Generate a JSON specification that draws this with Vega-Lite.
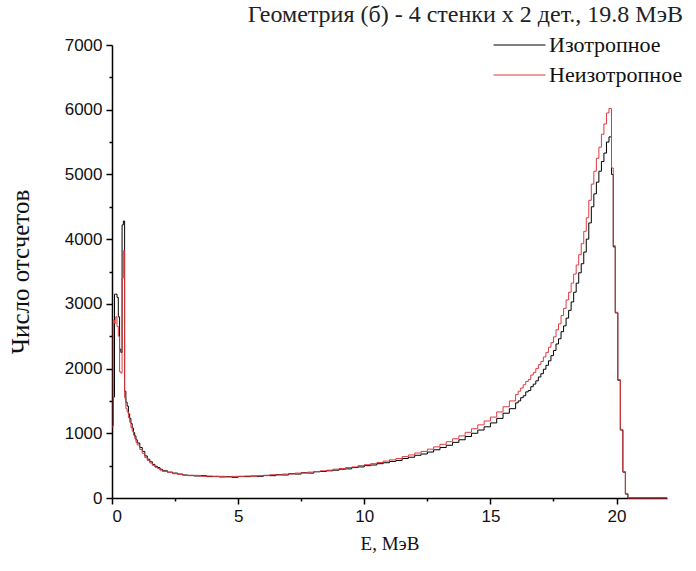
{
  "$schema": "https://vega.github.io/schema/vega-lite/v6.json",
  "width": 555,
  "height": 453,
  "autosize": {"type": "none"},
  "padding": {"left": 112, "top": 45, "right": 29, "bottom": 73},
  "background": "white",
  "title": {"text": "Геометрия (б) - 4 стенки x 2 дет., 19.8 МэВ", "anchor": "end", "font": "Liberation Serif", "fontSize": 24, "fontWeight": "normal", "color": "#222222", "offset": 9},
  "data": {"values": [
    {"E": 0.00, "iso": 1130, "aniso": 1100},
    {"E": 0.05, "iso": 1560, "aniso": 2750},
    {"E": 0.10, "iso": 3150, "aniso": 2700},
    {"E": 0.15, "iso": 3150, "aniso": 2800},
    {"E": 0.20, "iso": 3100, "aniso": 2650},
    {"E": 0.25, "iso": 2800, "aniso": 2500},
    {"E": 0.30, "iso": 2300, "aniso": 1950},
    {"E": 0.35, "iso": 2250, "aniso": 1930},
    {"E": 0.40, "iso": 4220, "aniso": 3400},
    {"E": 0.45, "iso": 4280, "aniso": 3820},
    {"E": 0.50, "iso": 1650, "aniso": 1550},
    {"E": 0.55, "iso": 1480, "aniso": 1380},
    {"E": 0.60, "iso": 1420, "aniso": 1330},
    {"E": 0.65, "iso": 1300, "aniso": 1240},
    {"E": 0.70, "iso": 1230, "aniso": 1170},
    {"E": 0.75, "iso": 1150, "aniso": 1090},
    {"E": 0.80, "iso": 1080, "aniso": 1030},
    {"E": 0.85, "iso": 1010, "aniso": 970},
    {"E": 0.90, "iso": 960, "aniso": 920},
    {"E": 0.95, "iso": 900, "aniso": 860},
    {"E": 1.00, "iso": 850, "aniso": 820},
    {"E": 1.10, "iso": 780, "aniso": 750},
    {"E": 1.20, "iso": 720, "aniso": 690},
    {"E": 1.30, "iso": 650, "aniso": 625},
    {"E": 1.40, "iso": 600, "aniso": 580},
    {"E": 1.50, "iso": 560, "aniso": 540},
    {"E": 1.60, "iso": 520, "aniso": 505},
    {"E": 1.70, "iso": 490, "aniso": 475},
    {"E": 1.80, "iso": 470, "aniso": 455},
    {"E": 1.90, "iso": 445, "aniso": 430},
    {"E": 2.00, "iso": 420, "aniso": 410},
    {"E": 2.20, "iso": 400, "aniso": 395},
    {"E": 2.40, "iso": 385, "aniso": 375},
    {"E": 2.60, "iso": 370, "aniso": 365},
    {"E": 2.80, "iso": 355, "aniso": 350},
    {"E": 3.00, "iso": 350, "aniso": 345},
    {"E": 3.25, "iso": 340, "aniso": 350},
    {"E": 3.50, "iso": 345, "aniso": 335},
    {"E": 3.75, "iso": 330, "aniso": 340},
    {"E": 4.00, "iso": 335, "aniso": 330},
    {"E": 4.25, "iso": 325, "aniso": 335},
    {"E": 4.50, "iso": 330, "aniso": 325},
    {"E": 4.75, "iso": 320, "aniso": 335},
    {"E": 5.00, "iso": 335, "aniso": 330},
    {"E": 5.25, "iso": 330, "aniso": 340},
    {"E": 5.50, "iso": 340, "aniso": 335},
    {"E": 5.75, "iso": 335, "aniso": 345},
    {"E": 6.00, "iso": 350, "aniso": 345},
    {"E": 6.25, "iso": 345, "aniso": 360},
    {"E": 6.50, "iso": 360, "aniso": 355},
    {"E": 6.75, "iso": 355, "aniso": 370},
    {"E": 7.00, "iso": 375, "aniso": 370},
    {"E": 7.25, "iso": 370, "aniso": 385},
    {"E": 7.50, "iso": 390, "aniso": 385},
    {"E": 7.75, "iso": 385, "aniso": 400},
    {"E": 8.00, "iso": 405, "aniso": 410},
    {"E": 8.25, "iso": 410, "aniso": 420},
    {"E": 8.50, "iso": 420, "aniso": 430},
    {"E": 8.75, "iso": 430, "aniso": 445},
    {"E": 9.00, "iso": 445, "aniso": 455},
    {"E": 9.25, "iso": 450, "aniso": 470},
    {"E": 9.50, "iso": 470, "aniso": 480},
    {"E": 9.75, "iso": 480, "aniso": 500},
    {"E": 10.00, "iso": 500, "aniso": 515},
    {"E": 10.25, "iso": 510, "aniso": 530},
    {"E": 10.50, "iso": 530, "aniso": 550},
    {"E": 10.75, "iso": 545, "aniso": 570},
    {"E": 11.00, "iso": 565, "aniso": 590},
    {"E": 11.25, "iso": 580, "aniso": 610},
    {"E": 11.50, "iso": 610, "aniso": 640},
    {"E": 11.75, "iso": 630, "aniso": 665},
    {"E": 12.00, "iso": 660, "aniso": 695},
    {"E": 12.25, "iso": 680, "aniso": 720},
    {"E": 12.50, "iso": 710, "aniso": 755},
    {"E": 12.75, "iso": 745, "aniso": 790},
    {"E": 13.00, "iso": 780, "aniso": 830},
    {"E": 13.25, "iso": 815, "aniso": 870},
    {"E": 13.50, "iso": 860, "aniso": 915},
    {"E": 13.75, "iso": 900, "aniso": 960},
    {"E": 14.00, "iso": 950, "aniso": 1015},
    {"E": 14.25, "iso": 1000, "aniso": 1070},
    {"E": 14.50, "iso": 1050, "aniso": 1130},
    {"E": 14.75, "iso": 1100, "aniso": 1190},
    {"E": 15.00, "iso": 1160, "aniso": 1250},
    {"E": 15.25, "iso": 1230, "aniso": 1330},
    {"E": 15.50, "iso": 1310, "aniso": 1410},
    {"E": 15.75, "iso": 1380, "aniso": 1500},
    {"E": 16.00, "iso": 1470, "aniso": 1600},
    {"E": 16.10, "iso": 1500, "aniso": 1650},
    {"E": 16.20, "iso": 1550, "aniso": 1700},
    {"E": 16.30, "iso": 1580, "aniso": 1750},
    {"E": 16.40, "iso": 1640, "aniso": 1800},
    {"E": 16.50, "iso": 1660, "aniso": 1830},
    {"E": 16.60, "iso": 1720, "aniso": 1900},
    {"E": 16.70, "iso": 1760, "aniso": 1940},
    {"E": 16.80, "iso": 1810, "aniso": 2000},
    {"E": 16.90, "iso": 1870, "aniso": 2060},
    {"E": 17.00, "iso": 1920, "aniso": 2110},
    {"E": 17.10, "iso": 1990, "aniso": 2180},
    {"E": 17.20, "iso": 2050, "aniso": 2250},
    {"E": 17.30, "iso": 2120, "aniso": 2330},
    {"E": 17.40, "iso": 2200, "aniso": 2400},
    {"E": 17.50, "iso": 2280, "aniso": 2490},
    {"E": 17.60, "iso": 2380, "aniso": 2600},
    {"E": 17.70, "iso": 2460, "aniso": 2690},
    {"E": 17.80, "iso": 2570, "aniso": 2820},
    {"E": 17.90, "iso": 2660, "aniso": 2930},
    {"E": 18.00, "iso": 2780, "aniso": 3060},
    {"E": 18.10, "iso": 2900, "aniso": 3180},
    {"E": 18.20, "iso": 3030, "aniso": 3320},
    {"E": 18.30, "iso": 3180, "aniso": 3460},
    {"E": 18.40, "iso": 3320, "aniso": 3600},
    {"E": 18.50, "iso": 3480, "aniso": 3760},
    {"E": 18.60, "iso": 3620, "aniso": 3930},
    {"E": 18.70, "iso": 3800, "aniso": 4120},
    {"E": 18.80, "iso": 4000, "aniso": 4330},
    {"E": 18.90, "iso": 4250, "aniso": 4600},
    {"E": 19.00, "iso": 4500, "aniso": 4850},
    {"E": 19.10, "iso": 4700, "aniso": 5050},
    {"E": 19.20, "iso": 4880, "aniso": 5250},
    {"E": 19.30, "iso": 5050, "aniso": 5420},
    {"E": 19.40, "iso": 5200, "aniso": 5620},
    {"E": 19.50, "iso": 5330, "aniso": 5780},
    {"E": 19.60, "iso": 5500, "aniso": 5950},
    {"E": 19.70, "iso": 5580, "aniso": 6020},
    {"E": 19.80, "iso": 5000, "aniso": 5100},
    {"E": 19.87, "iso": 3880, "aniso": 3900},
    {"E": 19.95, "iso": 2860, "aniso": 2870},
    {"E": 20.05, "iso": 1820, "aniso": 1830},
    {"E": 20.15, "iso": 1050, "aniso": 1060},
    {"E": 20.25, "iso": 400, "aniso": 410},
    {"E": 20.35, "iso": 60, "aniso": 70},
    {"E": 20.45, "iso": 0, "aniso": 0},
    {"E": 22.00, "iso": 0, "aniso": 0}
  ]},
  "transform": [{"fold": ["iso", "aniso"], "as": ["s", "n"]}],
  "mark": {"type": "line", "interpolate": "step-after", "strokeWidth": 1},
  "encoding": {
    "x": {
      "field": "E", "type": "quantitative",
      "scale": {"domain": [0, 22], "nice": false},
      "axis": {
        "values": [0, 2.5, 5, 7.5, 10, 12.5, 15, 17.5, 20],
        "labelExpr": "datum.value % 5 === 0 ? datum.label : ''",
        "grid": false,
        "labelFont": "Liberation Sans", "labelFontSize": 17, "labelColor": "#111111", "labelPadding": 4,
        "tickSize": {"condition": {"test": "datum.value % 5 === 0", "value": 6}, "value": 3},
        "tickColor": "#000000", "tickWidth": 1.5,
        "domainColor": "#000000", "domainWidth": 1.5,
        "title": "E, МэВ", "titleFont": "Liberation Serif", "titleFontSize": 19, "titleFontWeight": "normal", "titleColor": "#111111", "titlePadding": 10
      }
    },
    "y": {
      "field": "n", "type": "quantitative",
      "scale": {"domain": [0, 7000], "nice": false},
      "axis": {
        "values": [0, 500, 1000, 1500, 2000, 2500, 3000, 3500, 4000, 4500, 5000, 5500, 6000, 6500, 7000],
        "labelExpr": "datum.value % 1000 === 0 ? datum.label : ''",
        "format": "d",
        "grid": false,
        "labelFont": "Liberation Sans", "labelFontSize": 17, "labelColor": "#111111", "labelPadding": 4,
        "tickSize": {"condition": {"test": "datum.value % 1000 === 0", "value": 6}, "value": 3},
        "tickColor": "#000000", "tickWidth": 1.5,
        "domainColor": "#000000", "domainWidth": 1.5,
        "title": "Число отсчетов", "titleFont": "Liberation Serif", "titleFontSize": 25, "titleFontWeight": "normal", "titleColor": "#111111", "titlePadding": 31
      }
    },
    "color": {
      "field": "s", "type": "nominal",
      "scale": {"domain": ["iso", "aniso"], "range": ["#000000", "#e0393e"]},
      "legend": {
        "orient": "none", "legendX": 381, "legendY": -9,
        "title": null,
        "labelExpr": "datum.value === 'iso' ? 'Изотропное' : 'Неизотропное'",
        "labelFont": "Liberation Serif", "labelFontSize": 22, "labelColor": "#111111", "labelOffset": 3,
        "symbolType": "stroke", "symbolSize": 2700, "symbolStrokeWidth": 1,
        "clipHeight": 18, "rowPadding": 8
      }
    }
  },
  "config": {"view": {"stroke": null}}
}
